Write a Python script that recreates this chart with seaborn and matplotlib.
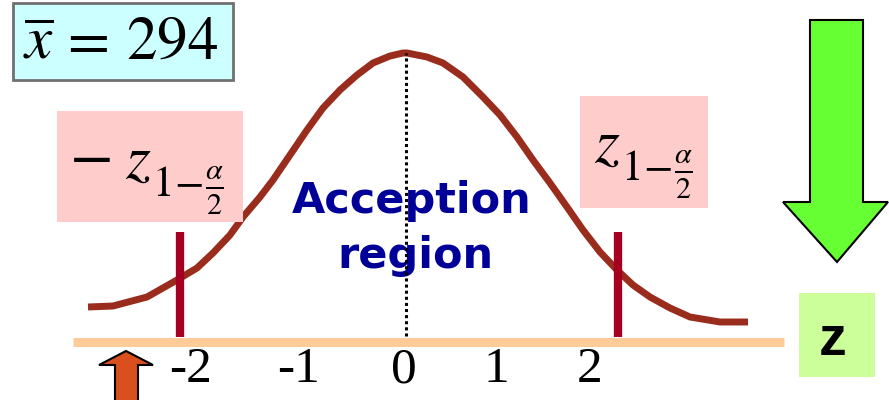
import matplotlib
matplotlib.use("Agg")
import matplotlib.pyplot as plt
from matplotlib.patches import Rectangle, Polygon
from matplotlib.transforms import Affine2D
import seaborn as sns

# ---- values -------------------------------------------------------------
# bell curve of the test statistic (z position, height above the axis)
curve_z = [-3.18, -2.93, -2.59, -2.29, -2.09, -1.93, -1.76, -1.63, -1.46, -1.33,
           -1.16, -0.99, -0.83, -0.66, -0.49, -0.33, -0.16, -0.03,
           0.01, 0.21, 0.37, 0.57, 0.77, 0.94, 1.11, 1.27, 1.44, 1.61,
           1.77, 1.94, 2.11, 2.27, 2.44, 2.64, 2.84, 3.14, 3.42]
curve_h = [0.35, 0.36, 0.45, 0.62, 0.74, 0.89, 1.07, 1.25, 1.45, 1.62,
           1.87, 2.12, 2.34, 2.52, 2.67, 2.79, 2.86, 2.89,
           2.89, 2.85, 2.79, 2.65, 2.45, 2.27, 2.05, 1.82, 1.59, 1.35,
           1.12, 0.90, 0.72, 0.57, 0.45, 0.34, 0.25, 0.20, 0.20]

# critical values -z(1-a/2) and +z(1-a/2)
crit_z = [-2.26, 2.12]
crit_h = 1.10

# axis labels
tick_labels = ["-2", "-1", "0", "1", "2"]
tick_pos = [-2.15, -1.07, -0.02, 0.90, 1.84]

xbar_text = r"$\overline{x}\, =\, 294$"
crit_sub_text = r"$1\!-\!\frac{\alpha}{2}$"
region_lines = ["Acception", "region"]
axis_name = "z"

# ---- figure -------------------------------------------------------------
sns.set_theme(style="white")
plt.rcParams["mathtext.fontset"] = "stix"

W, H = 889, 400
fig = plt.figure(figsize=(W / 100, H / 100), dpi=100)
ax = fig.add_axes([0, 0, 1, 1])
ax.set_xlim(-4.06, 4.83)
ax.set_ylim(-0.58, 3.42)
ax.axis("off")

# pixel-space transform (origin top-left) for the decorations
pix = Affine2D().scale(1 / 100, -1 / 100).translate(0, H / 100) + fig.dpi_scale_trans

# horizontal axis band
ax.plot([-3.33, 3.78], [0.005, 0.005], color="#FFCC99", lw=6.5,
        solid_capstyle="butt", zorder=1)

# the bell curve
sns.lineplot(x=curve_z, y=curve_h, ax=ax, color="#9A2C1E", lw=5,
             sort=False, estimator=None, zorder=2)
ax.lines[-1].set_solid_joinstyle("round")
ax.lines[-1].set_solid_capstyle("butt")

# critical value markers
for cz in crit_z:
    ax.plot([cz, cz], [0.05, crit_h], color="#A50021", lw=6,
            solid_capstyle="butt", zorder=3)

# tick labels
for pos, lab in zip(tick_pos, tick_labels):
    ax.text(pos, -0.28, lab, ha="center", va="center",
            family="Liberation Serif", fontsize=37, color="black")

# acceptance region caption
ax.text(0.06, 1.29, region_lines[0], ha="center", va="baseline",
        family="DejaVu Sans", fontweight="bold", fontsize=31, color="#000099", zorder=4)
ax.text(0.09, 0.74, region_lines[1], ha="center", va="baseline",
        family="DejaVu Sans", fontweight="bold", fontsize=31, color="#000099", zorder=4)

# centre line
ax.plot([0, 0], [0.06, 2.89], color="black", lw=2.2, linestyle=(0, (1, 1)), zorder=5)

# sample mean box
fig.patches.append(Rectangle((13, 3), 220, 77, transform=pix, facecolor="#CCFFFF",
                             edgecolor="#707070", lw=2, zorder=6))
fig.text(121, 42, xbar_text, transform=pix, ha="center", va="center",
         fontsize=44, color="black", zorder=7)


def crit_label(x, y, sign):
    """z with a lowered 1 - alpha/2 subscript; optional leading minus."""
    if sign:
        fig.text(x - 56, y - 4, r"$-$", transform=pix, ha="left", va="baseline",
                 fontsize=46, color="black", zorder=7)
    fig.text(x, y, r"$z$", transform=pix, ha="left", va="baseline",
             fontsize=46, color="black", zorder=7)
    fig.text(x + 27, y + 19, crit_sub_text, transform=pix, ha="left", va="baseline",
             fontsize=31, color="black", zorder=7)


# critical value boxes
fig.patches.append(Rectangle((57, 111), 186, 111, transform=pix, facecolor="#FFCCCC",
                             edgecolor="none", zorder=6))
crit_label(125, 178, True)
fig.patches.append(Rectangle((580, 96), 128, 112, transform=pix, facecolor="#FFCCCC",
                             edgecolor="none", zorder=6))
crit_label(594, 162, False)

# z label box
fig.patches.append(Rectangle((799, 293), 76, 84, transform=pix, facecolor="#CCFF99",
                             edgecolor="none", zorder=6))
fig.text(833, 341, axis_name, transform=pix, ha="center", va="center",
         family="Liberation Sans", fontweight="bold", fontsize=40, color="black", zorder=7)

# green down arrow
fig.patches.append(Polygon([(810, 20), (863, 20), (863, 202), (888, 202), (837, 262),
                            (783, 202), (810, 202)], closed=True, transform=pix,
                           facecolor="#66FF33", edgecolor="black", lw=1.5, zorder=6))

# orange up arrow
fig.patches.append(Polygon([(126, 351), (153, 365), (138, 365), (138, 403), (115, 403),
                            (115, 365), (99, 365)], closed=True, transform=pix,
                           facecolor="#D9501E", edgecolor="black", lw=1.5, zorder=6))

fig.savefig("out.png", dpi=100)
